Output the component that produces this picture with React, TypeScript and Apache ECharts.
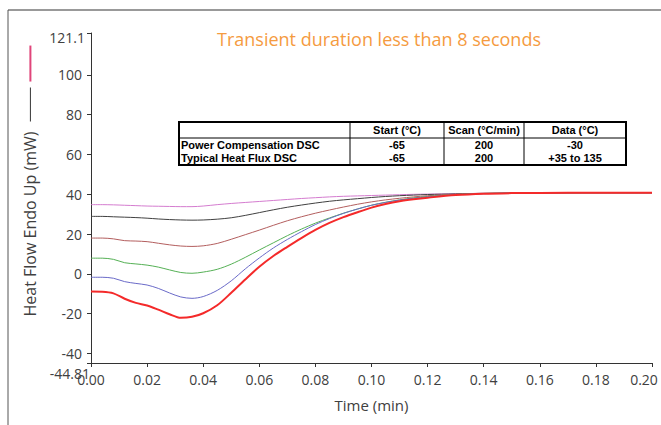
import React, { useEffect, useRef } from "react";
import * as echarts from "echarts";

// ---- data ----
const TIME = [
  0, 0.004, 0.008, 0.012, 0.016, 0.02, 0.024, 0.028, 0.032, 0.036, 0.04, 0.045, 0.05, 0.055, 0.06, 0.065,
  0.07, 0.075, 0.08, 0.085, 0.09, 0.095, 0.1, 0.105, 0.11, 0.115, 0.12, 0.13, 0.14, 0.15, 0.16, 0.18, 0.2,
];
const PINK = [
  34.8, 34.8, 34.7, 34.5, 34.3, 34.1, 34.0, 33.9, 33.8, 33.8, 34.1, 34.8, 35.4, 35.9, 36.4, 36.9,
  37.4, 37.9, 38.3, 38.7, 39.0, 39.2, 39.4, 39.6, 39.8, 40.0, 40.1, 40.3, 40.5, 40.6, 40.7, 40.8, 40.8,
];
const BLACK = [
  28.9, 28.9, 28.7, 28.5, 28.3, 28.0, 27.6, 27.3, 27.1, 27.0, 27.1, 27.5, 28.2, 29.4, 30.8, 32.2,
  33.5, 34.6, 35.6, 36.5, 37.2, 37.8, 38.4, 38.9, 39.3, 39.6, 39.9, 40.2, 40.5, 40.6, 40.7, 40.8, 40.8,
];
const BROWN = [
  18.0, 18.0, 17.6, 16.7, 16.5, 16.2, 15.4, 14.6, 14.0, 13.8, 14.1, 15.3, 17.4, 19.7, 22.0, 24.4,
  26.7, 28.7, 30.5, 32.1, 33.6, 35.0, 36.2, 37.2, 38.0, 38.7, 39.3, 40.0, 40.4, 40.6, 40.7, 40.8, 40.8,
];
const GREEN = [
  7.9, 7.9, 7.3, 5.6, 5.0, 4.4, 3.4, 2.0, 0.7, 0.3, 0.9, 2.3, 4.9, 8.3, 12.0, 15.6,
  19.2, 22.5, 25.5, 28.1, 30.5, 32.6, 34.5, 36.0, 37.2, 38.2, 38.9, 39.9, 40.4, 40.6, 40.7, 40.8, 40.8,
];
const BLUE = [
  -1.7, -1.7, -2.2, -3.9, -4.8, -5.6, -7.3, -9.6, -11.6, -12.3, -11.4, -8.3, -3.5, 2.5, 8.0, 13.0,
  17.3, 21.2, 24.8, 27.8, 30.4, 32.6, 34.5, 35.9, 37.1, 38.0, 38.7, 39.8, 40.3, 40.6, 40.7, 40.8, 40.8,
];
const RED = [
  -8.9, -9.0, -9.8, -12.5, -14.6, -15.9, -18.0, -20.3, -22.1, -21.6, -19.8, -15.8, -9.5, -2.8, 3.6, 9.0,
  13.6, 18.0, 22.1, 25.6, 28.5, 31.0, 33.3, 35.1, 36.5, 37.5, 38.3, 39.6, 40.3, 40.6, 40.7, 40.8, 40.8,
];

const Y_MIN = -44.81;
const Y_MAX = 121.1;
const Y_TICKS = [-44.81, -40, -20, 0, 20, 40, 60, 80, 100, 121.1];
const X_MIN = 0;
const X_MAX = 0.2;
const X_STEP = 0.02;

const TITLE = "Transient duration less than 8 seconds";
const TABLE_HEADER = ["", "Start (°C)", "Scan (°C/min)", "Data (°C)"];
const TABLE_ROWS = [
  ["Power Compensation DSC", "-65", "200", "-30"],
  ["Typical Heat Flux DSC", "-65", "200", "+35 to 135"],
];

// ---- layout ----
const W = 661;
const H = 425;
const COLS = [179, 350, 444, 524, 626];
const ROWS = [122, 138, 151.5, 165];
const FONT = "'Open Sans', 'Noto Sans', sans-serif";
const TABLE_FONT = "'Liberation Sans', Arial, sans-serif";

function buildTable(): any[] {
  const els: any[] = [];
  const left = COLS[0];
  const right = COLS[COLS.length - 1];
  const top = ROWS[0];
  const bottom = ROWS[ROWS.length - 1];
  els.push({
    type: "rect",
    shape: { x: left, y: top, width: right - left, height: bottom - top },
    style: { fill: "none", stroke: "#000", lineWidth: 2 },
  });
  els.push({
    type: "line",
    shape: { x1: left, y1: ROWS[1], x2: right, y2: ROWS[1] },
    style: { stroke: "#000", lineWidth: 1 },
  });
  for (let c = 1; c < COLS.length - 1; c++) {
    els.push({
      type: "line",
      shape: { x1: COLS[c], y1: top, x2: COLS[c], y2: bottom },
      style: { stroke: "#000", lineWidth: 1 },
    });
  }
  const allRows = [TABLE_HEADER, ...TABLE_ROWS];
  allRows.forEach((row, r) => {
    const yc = (ROWS[r] + ROWS[r + 1]) / 2;
    row.forEach((txt, c) => {
      if (!txt) return;
      const isFirst = c === 0;
      els.push({
        type: "text",
        x: isFirst ? COLS[0] + 2 : (COLS[c] + COLS[c + 1]) / 2,
        y: yc,
        style: {
          text: txt,
          align: isFirst ? "left" : "center",
          verticalAlign: "middle",
          font: `bold 11px ${TABLE_FONT}`,
          fill: "#000",
        },
      });
    });
  });
  return els;
}

export default function App() {
  const ref = useRef<HTMLDivElement>(null);

  useEffect(() => {
    if (!ref.current) return;
    const chart = echarts.init(ref.current, null, { renderer: "svg" });

    const mk = (name: string, vals: number[], color: string, width: number) => ({
      name,
      type: "line",
      data: TIME.map((t, i) => [t, vals[i]]),
      showSymbol: false,
      smooth: 0.3,
      lineStyle: { color, width },
      itemStyle: { color },
    });

    const base = { fontSize: 14, fontFamily: FONT, color: "#404040" };
    const yRich = {
      n: { ...base, padding: [0, 8, 0, 0] },
      t: { ...base, padding: [8, 5, 0, 0] },
      b: { ...base, padding: [20, 0, 0, 0] },
    };
    const xRich = {
      n: { ...base },
      r: { ...base, padding: [0, 16, 0, 0] },
    };

    chart.setOption({
      animation: false,
      grid: { left: 91, right: 9, top: 33, bottom: 62, containLabel: false, outerBoundsMode: "none" },
      xAxis: {
        type: "value",
        min: X_MIN,
        max: X_MAX,
        interval: X_STEP,
        name: "Time (min)",
        nameLocation: "middle",
        nameGap: 34,
        nameTextStyle: { fontSize: 15, fontFamily: FONT, color: "#404040" },
        axisLine: { onZero: false, lineStyle: { color: "#333", width: 1 } },
        axisTick: { show: true, inside: false, length: 4, lineStyle: { color: "#333" } },
        axisLabel: {
          ...base,
          margin: 9,
          rich: xRich,
          formatter: (v: number) =>
            Math.abs(v - X_MAX) < 1e-9 ? `{r|${v.toFixed(2)}}` : `{n|${v.toFixed(2)}}`,
        },
        splitLine: { show: false },
      },
      yAxis: {
        type: "value",
        min: Y_MIN,
        max: Y_MAX,
        name: "{g| }Heat Flow Endo Up (mW){s1| }{k| }{s2| }{p| }",
        nameLocation: "middle",
        nameGap: 43,
        nameRotate: 90,
        nameTextStyle: {
          fontSize: 16,
          fontFamily: FONT,
          color: "#404040",
          rich: {
            g: { width: 34 },
            s1: { width: 10 },
            k: { width: 34, height: 1, backgroundColor: "#333" },
            s2: { width: 6 },
            p: { width: 36, height: 2, backgroundColor: "#E0457A" },
          },
        },
        axisLine: { show: true, onZero: false, lineStyle: { color: "#333", width: 1 } },
        axisTick: { show: true, inside: false, length: 4, customValues: Y_TICKS, lineStyle: { color: "#333" } },
        axisLabel: {
          ...base,
          customValues: Y_TICKS,
          margin: 1,
          rich: yRich,
          formatter: (v: number) => {
            if (Math.abs(v - Y_MAX) < 1e-6) return `{t|${v}}`;
            if (Math.abs(v - Y_MIN) < 1e-6) return `{b|${v}}`;
            return `{n|${v}}`;
          },
        },
        splitLine: { show: false },
      },
      series: [
        mk("pink", PINK, "#D47CCF", 1),
        mk("black", BLACK, "#404040", 1),
        mk("brown", BROWN, "#B35E5E", 1),
        mk("green", GREEN, "#55B055", 1),
        mk("blue", BLUE, "#6A6AC8", 1),
        mk("red", RED, "#F42A2A", 2),
      ],
      graphic: [
        {
          type: "line",
          shape: { x1: 8, y1: 10, x2: W, y2: 10 },
          style: { stroke: "#777", lineWidth: 1.5 },
        },
        {
          type: "line",
          shape: { x1: 8, y1: 10, x2: 8, y2: H },
          style: { stroke: "#555", lineWidth: 1 },
        },
        {
          type: "text",
          x: 379,
          y: 39,
          style: {
            text: TITLE,
            align: "center",
            verticalAlign: "middle",
            font: `18px ${FONT}`,
            fill: "#F59B3F",
          },
        },
        ...buildTable(),
      ],
    });

    return () => chart.dispose();
  }, []);

  return (
    <div
      ref={ref}
      style={{ position: "fixed", left: 0, top: 0, width: W, height: H, background: "#fff" }}
    />
  );
}
